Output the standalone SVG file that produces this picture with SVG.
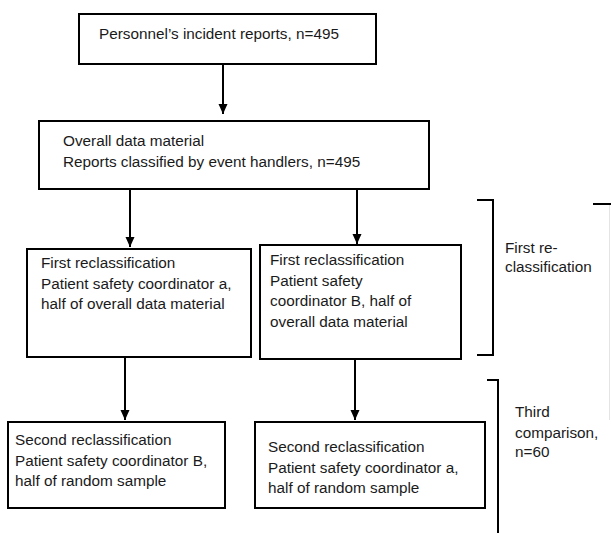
<svg xmlns="http://www.w3.org/2000/svg" width="611" height="533" viewBox="0 0 611 533">
<style>
.box{fill:#fff;stroke:#000;stroke-width:2}
.t{font-family:"Liberation Sans",Arial,sans-serif;font-size:15.3px;fill:#1a1a1a}
.c{stroke:#000;stroke-width:2;fill:none}
</style>
<defs>
<marker id="ah" markerUnits="userSpaceOnUse" markerWidth="10" markerHeight="10" refX="10" refY="5" orient="auto">
<path d="M0,0.5 L10,5 L0,9.5 z" fill="#000"/>
</marker>
</defs>
<rect width="611" height="533" fill="#fff"/>
<g id="connectors">
<line class="c" x1="223" y1="64" x2="223" y2="114" marker-end="url(#ah)"/>
<line class="c" x1="130" y1="189" x2="130" y2="247" marker-end="url(#ah)"/>
<line class="c" x1="357" y1="189" x2="357" y2="244" marker-end="url(#ah)"/>
<line class="c" x1="125" y1="357" x2="125" y2="420" marker-end="url(#ah)"/>
<line class="c" x1="355" y1="359" x2="355" y2="420" marker-end="url(#ah)"/>
</g>
<g id="n1">
<rect class="box" x="79" y="14" width="297" height="50"/>
<text class="t" x="99" y="39">Personnel’s incident reports, n=495</text>
</g>
<g id="n2">
<rect class="box" x="39" y="121" width="390" height="68"/>
<text class="t" x="63" y="146">Overall data material</text>
<text class="t" x="63" y="167">Reports classified by event handlers, n=495</text>
</g>
<g id="n3">
<rect class="box" x="27" y="249" width="224" height="108"/>
<text class="t" x="41" y="268">First reclassification</text>
<text class="t" x="41" y="289">Patient safety coordinator a,</text>
<text class="t" x="41" y="309">half of overall data material</text>
</g>
<g id="n4">
<rect class="box" x="260" y="245" width="201" height="114"/>
<text class="t" x="270" y="265">First reclassification</text>
<text class="t" x="270" y="286">Patient safety</text>
<text class="t" x="270" y="306">coordinator B, half of</text>
<text class="t" x="270" y="327">overall data material</text>
</g>
<g id="n5">
<rect class="box" x="8" y="422" width="217" height="86"/>
<text class="t" x="15" y="445">Second reclassification</text>
<text class="t" x="15" y="466">Patient safety coordinator B,</text>
<text class="t" x="15" y="486">half of random sample</text>
</g>
<g id="n6">
<rect class="box" x="255" y="422" width="230" height="86"/>
<text class="t" x="268" y="452">Second reclassification</text>
<text class="t" x="268" y="473">Patient safety coordinator a,</text>
<text class="t" x="268" y="493">half of random sample</text>
</g>
<g id="brackets">
<path class="c" d="M477,200 H493 V355 H477"/>
<path class="c" d="M487,380 H498 V533"/>
<path class="c" d="M593,204 H611"/>
<line x1="609.5" y1="205" x2="609.5" y2="420" stroke="#e4e4e4" stroke-width="1"/>
<text class="t" x="505" y="253">First re-</text>
<text class="t" x="505" y="272">classification</text>
<text class="t" x="515" y="417">Third</text>
<text class="t" x="515" y="438">comparison,</text>
<text class="t" x="515" y="457">n=60</text>
</g>
</svg>
